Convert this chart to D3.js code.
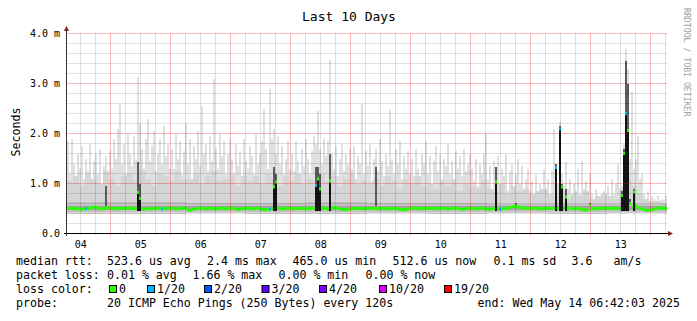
<!DOCTYPE html>
<html>
<head>
<meta charset="utf-8">
<script src="https://cdn.jsdelivr.net/npm/d3@7"></script>
<style>
  body { margin: 0; background: #fff; }
  svg { display: block; font-family: 'DejaVu Sans Mono', monospace; }
</style>
</head>
<body>
<svg id="chart" width="697" height="321"></svg>
<script>
// time window of the graph, one bin = 48 minutes (300 bins)
var startTime = new Date(2025, 4, 4, 6, 42, 3);
var endTime = new Date(2025, 4, 14, 6, 42, 3);
var binMinutes = 48;
var upperMinutes = 144;

// max ping per bin (ms), tips of the light smoke
var maxPing = [
  1.85,1.20,1.90,1.40,1.00,1.60,1.30,1.75,1.10,1.50,1.25,1.80,1.05,1.45,1.60,1.20,1.70,0.95,1.35,1.55,1.15,1.65,
  1.30,1.90,1.50,2.10,2.60,1.40,1.80,1.20,2.00,1.60,1.35,1.95,1.50,3.14,2.20,1.70,1.30,1.90,2.30,1.45,1.75,2.05,1.25,1.60,1.90,1.40,2.15,1.55,1.80,1.30,
  1.70,1.30,2.00,1.50,1.85,1.20,1.65,2.20,1.40,1.90,1.10,1.75,1.50,2.05,1.35,2.56,1.60,1.80,1.25,1.95,1.45,3.10,1.70,1.30,2.00,1.55,1.85,1.20,1.60,1.90,
  1.50,1.20,1.80,1.35,1.65,1.10,1.90,1.45,1.30,1.75,1.55,1.20,2.00,1.40,1.60,1.85,2.50,1.70,1.30,2.90,1.90,2.10,1.60,1.95,1.40,1.75,1.20,1.50,1.85,1.30,
  1.60,1.25,1.85,1.45,1.10,1.70,1.35,1.90,1.50,1.20,1.65,1.95,1.80,2.46,1.70,1.40,1.90,1.55,1.85,3.48,1.60,1.30,1.75,1.15,1.50,1.80,1.25,1.60,1.40,1.70,
  1.30,1.75,1.10,1.55,1.40,2.60,1.20,1.65,1.35,1.80,1.05,1.50,1.70,1.25,1.90,1.45,1.15,1.60,1.35,2.48,1.50,1.20,1.70,1.40,1.85,1.10,1.55,1.30,1.65,1.20,
  1.50,1.15,1.70,1.30,1.05,1.60,1.40,1.85,1.20,1.55,1.00,1.45,1.75,1.25,1.60,1.10,1.50,1.35,1.80,1.20,1.45,1.05,1.65,1.30,1.55,1.15,1.70,1.25,1.40,1.60,
  1.30,1.05,1.50,0.95,1.40,1.20,1.60,2.00,1.10,1.35,0.90,1.45,1.25,1.55,1.00,1.30,1.15,1.60,0.85,1.25,1.40,0.95,1.20,1.50,1.00,1.35,0.90,1.10,1.30,0.85,
  1.05,0.80,1.20,0.75,1.00,0.90,1.30,0.80,1.10,0.70,1.25,2.10,1.40,1.00,2.24,1.20,0.95,1.43,0.90,1.10,0.75,1.00,0.85,1.30,0.80,1.45,0.90,1.05,0.70,1.20,
  0.80,0.65,0.90,0.70,0.75,0.60,0.85,0.70,0.95,0.75,1.10,0.80,1.00,1.40,0.90,0.96,1.80,3.69,3.30,1.50,2.83,1.30,1.50,1.96,1.10,1.20,
  0.80,0.70,0.85,0.65,0.76,0.70,0.65,0.75,0.62,0.70,0.68,0.76
];

// body of the light smoke per 2.4 h (ms)
var upperPing = [
  1.05,1.15,0.95,1.20,1.10,1.00,1.25,1.10,0.95,1.15,
  1.20,1.05,1.30,1.10,0.95,1.20,1.15,1.05,1.25,1.10,
  1.10,1.20,1.00,1.15,1.25,1.05,1.10,1.20,0.95,1.15,
  1.05,1.15,1.00,1.20,1.10,0.95,1.15,1.05,1.20,1.00,
  1.10,1.00,1.20,1.05,1.15,0.95,1.10,1.20,1.00,1.05,
  1.00,1.10,0.95,1.15,1.05,0.90,1.10,1.00,1.15,0.95,
  1.00,0.90,1.05,0.95,1.10,0.85,1.00,0.95,0.90,1.05,
  0.90,0.85,1.00,0.80,0.95,0.85,0.90,0.80,0.85,0.90,
  0.80,0.75,0.85,0.70,0.80,0.75,0.85,0.70,0.75,0.80,
  0.75,0.70,0.90,1.10,0.95,0.80,0.70,0.65,0.65,0.62
];

// median rtt per bin (ms)
var medPing = [
  0.50,0.50,0.51,0.50,0.49,0.50,0.49,0.48,0.49,0.50,0.50,0.51,0.52,0.53,0.52,0.51,0.50,0.49,0.50,0.52,0.51,0.50,0.50,0.51,0.50,0.49,0.50,0.51,0.51,0.50,
  0.50,0.51,0.50,0.50,0.51,0.82,0.70,0.49,0.48,0.49,0.50,0.50,0.49,0.50,0.51,0.50,0.50,0.49,0.50,0.51,0.50,0.50,0.51,0.50,0.49,0.50,0.50,0.51,0.50,0.50,
  0.47,0.46,0.48,0.49,0.50,0.50,0.51,0.50,0.50,0.49,0.50,0.51,0.50,0.50,0.49,0.50,0.50,0.51,0.50,0.49,0.50,0.50,0.51,0.50,0.49,0.48,0.49,0.50,0.50,0.51,
  0.50,0.50,0.49,0.50,0.51,0.50,0.49,0.48,0.48,0.47,0.48,0.49,0.50,0.93,1.03,0.50,0.51,0.50,0.49,0.50,0.50,0.51,0.50,0.49,0.50,0.50,0.51,0.50,0.50,0.49,
  0.50,0.50,0.51,0.50,0.96,1.09,0.89,0.51,0.50,0.50,0.49,1.05,0.51,0.52,0.51,0.50,0.49,0.48,0.48,0.47,0.48,0.49,0.50,0.50,0.51,0.50,0.50,0.50,0.49,0.50,
  0.50,0.51,0.50,0.50,0.50,0.49,0.50,0.51,0.50,0.50,0.49,0.50,0.50,0.51,0.50,0.49,0.48,0.48,0.47,0.48,0.49,0.50,0.50,0.51,0.50,0.50,0.49,0.50,0.51,0.51,
  0.50,0.50,0.51,0.50,0.49,0.50,0.50,0.51,0.51,0.50,0.49,0.50,0.50,0.51,0.50,0.50,0.49,0.48,0.49,0.50,0.50,0.51,0.50,0.49,0.50,0.50,0.51,0.50,0.50,0.49,
  0.49,0.48,0.49,0.50,1.03,0.50,0.49,0.49,0.50,0.50,0.51,0.52,0.53,0.54,0.55,0.53,0.52,0.51,0.50,0.51,0.50,0.50,0.51,0.50,0.51,0.50,0.50,0.49,0.50,0.51,
  0.50,0.51,0.50,0.50,1.32,0.50,2.09,0.93,0.50,0.73,0.50,0.51,0.50,0.49,0.50,0.50,0.49,0.48,0.47,0.46,0.48,0.56,0.50,0.49,0.50,0.50,0.51,0.50,0.50,0.51,
  0.50,0.50,0.51,0.50,0.50,0.51,0.50,0.76,1.60,2.40,2.06,0.60,0.52,0.83,0.55,0.52,0.50,0.49,0.48,0.46,0.46,0.47,0.48,0.49,0.50,0.51,0.51,0.50,0.50,0.50
];

// dense (dark) smoke spikes: bin index and top of dark smoke (ms)
var darkBin = [19, 35, 36, 103, 104, 124, 125, 126, 131, 154, 214, 224, 244, 246, 247, 249, 261, 277, 278, 279, 280, 281, 283];
var darkTop = [0.96, 1.43, 1.00, 1.33, 1.20, 1.33, 1.33, 1.20, 1.60, 1.33, 1.33, 0.62, 1.40, 2.15, 1.00, 0.90, 0.62, 0.85, 1.70, 3.46, 3.00, 0.70, 0.90];

// bins with packet loss (pings lost out of 20)
var lossBin = [9, 47, 101, 124, 216, 244, 246, 279];
var lossCount = [1, 1, 1, 1, 1, 1, 1, 1];

// per day smoke floor and inner bands (ms)
var smokeMin = [0.40, 0.40, 0.41, 0.40, 0.40, 0.41, 0.40, 0.41, 0.40, 0.41];
var bandLow = [0.44, 0.44, 0.44, 0.44, 0.44, 0.44, 0.44, 0.44, 0.44, 0.44];
var bandHigh = [0.63, 0.63, 0.62, 0.62, 0.63, 0.62, 0.61, 0.60, 0.60, 0.59];
var coreLow = [0.47, 0.47, 0.47, 0.47, 0.47, 0.47, 0.47, 0.47, 0.47, 0.47];
var coreHigh = [0.56, 0.56, 0.56, 0.56, 0.56, 0.56, 0.55, 0.55, 0.55, 0.55];

var yTicks = [0, 1, 2, 3, 4];
var lossSteps = [0, 1, 2, 3, 4, 10, 19];
var lossColors = ['#26ff00', '#00b8ff', '#0059ff', '#5e00ff', '#7e00ff', '#dd00ff', '#ff0000'];

var rttStats = ['523.6 us avg', '2.4 ms max', '465.0 us min', '512.6 us now', '0.1 ms sd', '3.6', 'am/s'];
var lossStats = ['0.01 % avg', '1.66 % max', '0.00 % min', '0.00 % now'];
var probeText = '20 ICMP Echo Pings (250 Bytes) every 120s';
var endText = 'end: Wed May 14 06:42:03 2025';

var svg = d3.select('#chart');

var x_scale = d3.scaleTime().domain([startTime, endTime]).range([67, 667]);
var y_scale = d3.scaleLinear().domain([0, 4]).range([233.5, 33.5]);

function binTime(i) { return new Date(startTime.getTime() + i * binMinutes * 60000); }
function upperTime(i) { return new Date(startTime.getTime() + i * upperMinutes * 60000); }
function dayOf(i) { return Math.min(9, Math.floor(i * binMinutes / 1440)); }
function px(v) { return Math.floor(v) + 0.5; }

var bins = d3.range(maxPing.length);
var lossOf = {};
lossBin.forEach(function (b, k) { lossOf[b] = lossCount[k]; });
function lossColor(n) {
     var idx = 0;
     lossSteps.forEach(function (s, k) { if (n >= s) idx = k; });
     return lossColors[idx];
}

var smoke = svg.append('g').attr('shape-rendering', 'crispEdges');

// light spikes up to the max ping
smoke.selectAll('rect.tip')
     .data(bins)
     .enter()
     .append('rect')
     .attr('x', i => x_scale(binTime(i)))
     .attr('width', i => x_scale(binTime(i + 1)) - x_scale(binTime(i)))
     .attr('y', i => y_scale(maxPing[i]))
     .attr('height', i => y_scale(smokeMin[dayOf(i)]) - y_scale(maxPing[i]))
     .attr('fill', '#e0e0e0');

// dense light body
smoke.selectAll('rect.body')
     .data(d3.range(upperPing.length))
     .enter()
     .append('rect')
     .attr('x', i => x_scale(upperTime(i)))
     .attr('width', i => x_scale(upperTime(i + 1)) - x_scale(upperTime(i)))
     .attr('y', i => y_scale(upperPing[i]))
     .attr('height', i => y_scale(0.42) - y_scale(upperPing[i]))
     .attr('fill', '#d5d5d5');

smoke.selectAll('rect.band')
     .data(bins)
     .enter()
     .append('rect')
     .attr('x', i => x_scale(binTime(i)))
     .attr('width', i => x_scale(binTime(i + 1)) - x_scale(binTime(i)))
     .attr('y', i => y_scale(bandHigh[dayOf(i)]))
     .attr('height', i => y_scale(bandLow[dayOf(i)]) - y_scale(bandHigh[dayOf(i)]))
     .attr('fill', '#c2c2c2');

smoke.selectAll('rect.core')
     .data(bins)
     .enter()
     .append('rect')
     .attr('x', i => x_scale(binTime(i)))
     .attr('width', i => x_scale(binTime(i + 1)) - x_scale(binTime(i)))
     .attr('y', i => y_scale(coreHigh[dayOf(i)]))
     .attr('height', i => y_scale(coreLow[dayOf(i)]) - y_scale(coreHigh[dayOf(i)]))
     .attr('fill', '#a4a4a4');

// dark smoke spikes
darkBin.forEach(function (b, k) {
     var x0 = x_scale(binTime(b)), x1 = x_scale(binTime(b + 1));
     var mid = Math.max(medPing[b], 0.56);
     smoke.append('rect')
          .attr('x', x0).attr('width', x1 - x0)
          .attr('y', y_scale(darkTop[k]))
          .attr('height', y_scale(mid) - y_scale(darkTop[k]))
          .attr('fill', '#5c5c5c');
     if (medPing[b] > 0.6) {
          smoke.append('rect')
               .attr('x', x0).attr('width', x1 - x0)
               .attr('y', y_scale(medPing[b]))
               .attr('height', y_scale(0.45) - y_scale(medPing[b]))
               .attr('fill', '#141414');
     }
});

// median, coloured by loss
svg.append('g').selectAll('rect')
     .data(bins)
     .enter()
     .append('rect')
     .attr('x', i => x_scale(binTime(i)))
     .attr('width', i => x_scale(binTime(i + 1)) - x_scale(binTime(i)))
     .attr('y', i => y_scale(medPing[i]) - 1.5)
     .attr('height', 3)
     .attr('fill', i => lossColor(lossOf[i] || 0));

// grid
var grid = svg.append('g').attr('shape-rendering', 'crispEdges');
var minorY = d3.range(1, 20).map(d => d / 5).filter(d => Math.abs(d - Math.round(d)) > 1e-6);
grid.selectAll('line.hmin').data(minorY).enter().append('line')
     .attr('x1', 67).attr('x2', 667)
     .attr('y1', d => px(y_scale(d))).attr('y2', d => px(y_scale(d)))
     .attr('stroke', 'rgba(0,0,0,0.12)');
var sixHours = d3.timeHour.range(startTime, endTime).filter(d => d.getHours() % 6 === 0 && d.getHours() !== 0);
grid.selectAll('line.vmin').data(sixHours).enter().append('line')
     .attr('x1', d => px(x_scale(d))).attr('x2', d => px(x_scale(d)))
     .attr('y1', 33).attr('y2', 236)
     .attr('stroke', 'rgba(0,0,0,0.12)');
grid.selectAll('line.hmaj').data(yTicks.slice(1)).enter().append('line')
     .attr('x1', 67).attr('x2', 667)
     .attr('y1', d => px(y_scale(d))).attr('y2', d => px(y_scale(d)))
     .attr('stroke', 'rgba(230,0,0,0.27)');
var midnights = d3.timeDay.range(startTime, endTime);
grid.selectAll('line.vmaj').data(midnights).enter().append('line')
     .attr('x1', d => px(x_scale(d))).attr('x2', d => px(x_scale(d)))
     .attr('y1', 33).attr('y2', 236)
     .attr('stroke', 'rgba(230,0,0,0.27)');

// axes lines and arrows
var axes = svg.append('g').attr('shape-rendering', 'crispEdges');
axes.append('line').attr('x1', 64).attr('x2', 669).attr('y1', 233.5).attr('y2', 233.5).attr('stroke', '#000');
axes.append('line').attr('x1', 66.5).attr('x2', 66.5).attr('y1', 236).attr('y2', 29).attr('stroke', '#333');
svg.append('path').attr('d', 'M668,231 L673,233.5 L668,236 Z').attr('fill', '#8b1a1a');
svg.append('path').attr('d', 'M64,31 L66.5,26 L69,31 Z').attr('fill', '#8b1a1a');

// y labels
var y_axis = d3.axisLeft(y_scale)
     .tickValues(yTicks)
     .tickSize(0)
     .tickPadding(6)
     .tickFormat(d => d === 0 ? '0.0' : d.toFixed(1) + ' m');
var gy = svg.append('g').attr('transform', 'translate(66,0)').call(y_axis);
gy.select('.domain').remove();
gy.attr('font-family', "'DejaVu Sans Mono', monospace").attr('font-size', 10);
gy.selectAll('text').attr('fill', '#000');

// x labels, day number at noon
var noons = d3.timeDay.range(d3.timeDay.floor(startTime), endTime)
     .map(d => d3.timeHour.offset(d, 12))
     .filter(d => d > startTime && d < endTime);
var x_axis = d3.axisBottom(x_scale)
     .tickValues(noons)
     .tickSize(0)
     .tickPadding(8)
     .tickFormat(d3.timeFormat('%d'));
var gx = svg.append('g').attr('transform', 'translate(0,233)').call(x_axis);
gx.select('.domain').remove();
gx.attr('font-family', "'DejaVu Sans Mono', monospace").attr('font-size', 10);
gx.selectAll('text').attr('fill', '#000');

// title, axis label, watermark
svg.append('text')
     .attr('x', 349).attr('y', 20.5)
     .attr('text-anchor', 'middle')
     .attr('font-size', 13)
     .text('Last 10 Days');

svg.append('text')
     .attr('transform', 'translate(20,132) rotate(-90)')
     .attr('text-anchor', 'middle')
     .attr('font-size', 11.6)
     .text('Seconds');

svg.append('text')
     .attr('transform', 'translate(683.5,8) rotate(90)')
     .attr('font-size', 8.2)
     .attr('fill', '#a0a0a0')
     .text('RRDTOOL / TOBI OETIKER');

// legend
var legend = svg.append('g').attr('font-size', 11.6).attr('fill', '#000').style('white-space', 'pre');
var rttX = [107, 207, 292.5, 392.5, 493.5, 571.5, 613.5];
var lossX = [107, 192.5, 278.5, 365.5];
legend.append('text').attr('x', 16).attr('y', 264.5).text('median rtt:');
rttStats.forEach((t, k) => legend.append('text').attr('x', rttX[k]).attr('y', 264.5).text(t));
legend.append('text').attr('x', 16).attr('y', 278.5).text('packet loss:');
lossStats.forEach((t, k) => legend.append('text').attr('x', lossX[k]).attr('y', 278.5).text(t));
legend.append('text').attr('x', 16).attr('y', 292.5).text('loss color:');
var swatchX = [109, 147, 204, 261.5, 319, 379, 444];
lossSteps.forEach(function (s, k) {
     legend.append('rect')
          .attr('x', swatchX[k] + 0.5).attr('y', 285.5)
          .attr('width', 7).attr('height', 7)
          .attr('fill', lossColors[k])
          .attr('stroke', '#000');
     legend.append('text')
          .attr('x', swatchX[k] + 10).attr('y', 292.5)
          .text(s === 0 ? '0' : s + '/20');
});
legend.append('text').attr('x', 16).attr('y', 306.5).text('probe:');
legend.append('text').attr('x', 107).attr('y', 306.5).text(probeText);
legend.append('text').attr('x', 477.5).attr('y', 306.5).text(endText);
</script>
</body>
</html>
